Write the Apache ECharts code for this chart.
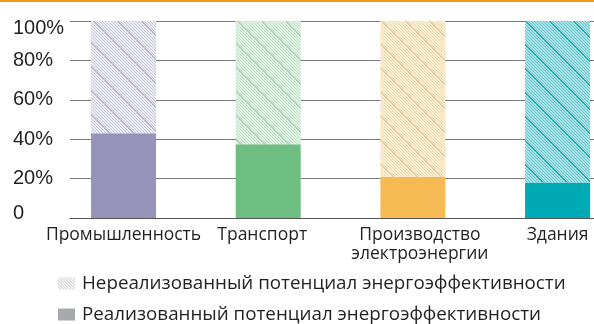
<!DOCTYPE html>
<html>
<head>
<meta charset="utf-8">
<script src="https://cdn.jsdelivr.net/npm/echarts@6/dist/echarts.min.js"></script>
<style>
  html, body { margin: 0; padding: 0; background: #fff; overflow: hidden; }
  #chart { width: 630px; height: 324px; }
</style>
</head>
<body>
<div id="chart"></div>
<script>
// Доля реализованного и нереализованного потенциала энергоэффективности по секторам
const categories = ['Промышленность', 'Транспорт', 'Производство\nэлектроэнергии', 'Здания'];
const realized = [43, 37.5, 21, 18];
const unrealized = [57, 62.5, 79, 82];
const yTicks = [0, 20, 40, 60, 80, 100];

const realizedName = 'Реализованный потенциал энергоэффективности';
const unrealizedName = 'Нереализованный потенциал энергоэффективности';

const solidColors = ['#9593B8', '#6DBE80', '#F5BA54', '#00AAB5'];
// [фон, тонкая штриховка, редкая тёмная линия]
const hatchColors = [
  ['#ECECF3', '#C9C9DC', '#B4B4CC'],
  ['#E4F3E7', '#BBE0C2', '#A2D3AC'],
  ['#FBEFD8', '#F3D6A5', '#ECC98C'],
  ['#ACE1E5', '#62C7CF', '#18AFB9']
];
const legendHatch = ['#FFFFFF', '#BDBDBD', '#BDBDBD'];
// горизонтальный сдвиг подписей категорий, px
const labelShift = [0, -6, 7, 0];

// диагональная штриховка «\\\» в виде повторяющейся текстуры
function makeHatch(colors, tile, step, bold) {
  const c = document.createElement('canvas');
  c.width = tile; c.height = tile;
  const ctx = c.getContext('2d');
  const img = ctx.createImageData(tile, tile);
  const parse = h => [parseInt(h.slice(1, 3), 16), parseInt(h.slice(3, 5), 16), parseInt(h.slice(5, 7), 16)];
  const bg = parse(colors[0]), fine = parse(colors[1]), dark = parse(colors[2]);
  for (let y = 0; y < tile; y++) {
    for (let x = 0; x < tile; x++) {
      const d = ((x - y) % tile + tile) % tile;
      let col = bg;
      if (d % step === 0) col = fine;
      if (bold && (d === 0 || d === 1)) col = dark;
      const i = (y * tile + x) * 4;
      img.data[i] = col[0]; img.data[i + 1] = col[1]; img.data[i + 2] = col[2]; img.data[i + 3] = 255;
    }
  }
  ctx.putImageData(img, 0, 0);
  return { image: c, repeat: 'repeat' };
}

const hatchPatterns = hatchColors.map(c => makeHatch(c, 24, 3, true));
const legendPattern = makeHatch(legendHatch, 3, 3, false);

const textColor = '#231F20';
const catFont = 'Open Sans';
const numFont = 'Liberation Sans';

const legendBase = {
  orient: 'vertical',
  left: 58,
  padding: 0,
  itemWidth: 17, itemHeight: 12,
  icon: 'rect',
  selectedMode: false,
  textStyle: { color: textColor, fontFamily: catFont, fontSize: 18.8, padding: [0, 0, 0, 2] }
};

// rich-стили для сдвига подписей категорий
const catRich = {};
labelShift.forEach((s, i) => {
  catRich['c' + i] = {
    color: textColor, fontFamily: catFont, fontSize: 17.5, lineHeight: 18.5,
    padding: s >= 0 ? [0, 0, 0, 2 * s] : [0, -2 * s, 0, 0]
  };
});

const chart = echarts.init(document.getElementById('chart'), null, { renderer: 'canvas' });

chart.setOption({
  animation: false,
  graphic: [{
    type: 'rect', left: 0, top: 0,
    shape: { width: 630, height: 2 },
    style: { fill: '#F7941D' }
  }],
  legend: [
    Object.assign({}, legendBase, {
      top: 274,
      data: [{ name: unrealizedName, itemStyle: { color: legendPattern } }]
    }),
    Object.assign({}, legendBase, {
      top: 305,
      data: [{ name: realizedName, itemStyle: { color: '#A7A9AC' } }]
    })
  ],
  grid: [
    { left: 51.2, top: 21, width: 578.7, height: 197 },
    { left: 70, right: 36, top: 21, height: 197 }
  ],
  xAxis: [
    {
      type: 'category', gridIndex: 0, data: categories,
      axisLine: { show: false }, axisTick: { show: false },
      axisLabel: {
        interval: 0, hideOverlap: false,
        margin: 8, color: textColor, fontFamily: catFont, fontSize: 17.5, lineHeight: 18.5,
        formatter: function (v, i) {
          return v.split('\n').map(line => '{c' + i + '|' + line + '}').join('\n');
        },
        rich: catRich
      }
    },
    {
      type: 'value', gridIndex: 1, min: 0, max: 1,
      axisLine: { show: true, lineStyle: { color: '#555', width: 1 } },
      axisTick: { show: false }, axisLabel: { show: false }, splitLine: { show: false }
    }
  ],
  yAxis: [
    { type: 'value', gridIndex: 0, min: 0, max: 100, show: false },
    {
      type: 'value', gridIndex: 1, min: yTicks[0], max: yTicks[yTicks.length - 1], interval: 20,
      axisLine: { show: false }, axisTick: { show: false },
      splitLine: { show: true, lineStyle: { color: '#7a7a7a', width: 1 } },
      axisLabel: {
        align: 'left', margin: 57,
        color: textColor, fontFamily: numFont, fontSize: 20,
        formatter: function (v) {
          if (v === 100) return '{top|100%}';
          if (v === 0) return '{bot|0}';
          return v + '%';
        },
        rich: {
          top: { padding: [14, 0, 0, 0], color: textColor, fontFamily: numFont, fontSize: 20 },
          bot: { padding: [0, 0, 9, 0], color: textColor, fontFamily: numFont, fontSize: 20 }
        }
      }
    }
  ],
  series: [
    {
      name: realizedName, type: 'bar', stack: 'total',
      xAxisIndex: 0, yAxisIndex: 0, barWidth: 65,
      itemStyle: { color: '#A7A9AC' },
      data: realized.map((v, i) => ({ value: v, itemStyle: { color: solidColors[i] } }))
    },
    {
      name: unrealizedName, type: 'bar', stack: 'total',
      xAxisIndex: 0, yAxisIndex: 0, barWidth: 65,
      itemStyle: { color: legendPattern },
      data: unrealized.map((v, i) => ({ value: v, itemStyle: { color: hatchPatterns[i] } }))
    }
  ]
});
</script>
</body>
</html>
